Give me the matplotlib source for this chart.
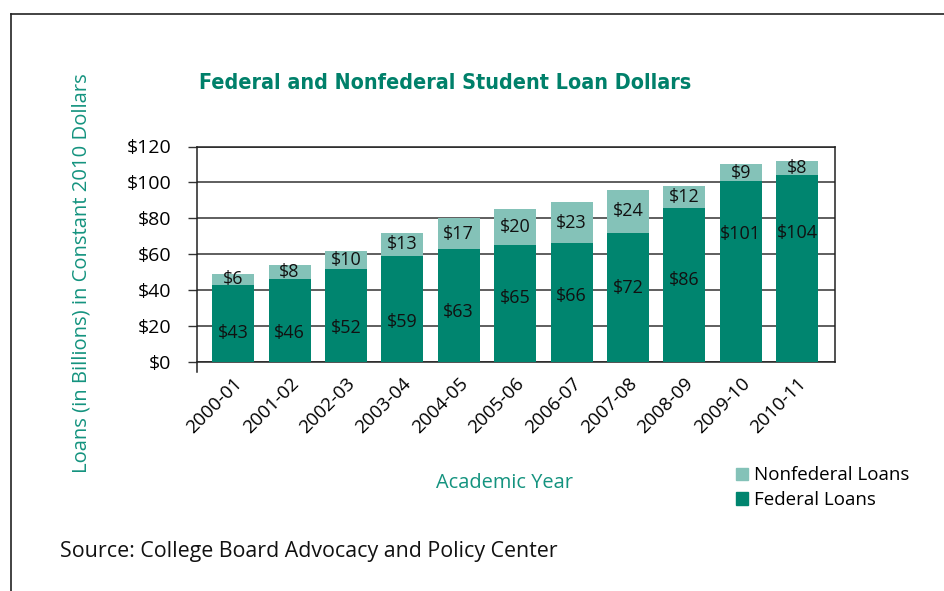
import numpy as np
import matplotlib.pyplot as plt
from matplotlib.lines import Line2D
from matplotlib.patches import Patch

# Loan dollars (billions, constant 2010 dollars)
years = ["2000-01", "2001-02", "2002-03", "2003-04", "2004-05", "2005-06",
         "2006-07", "2007-08", "2008-09", "2009-10", "2010-11"]
federal = [43, 46, 52, 59, 63, 65, 66, 72, 86, 101, 104]
nonfederal = [6, 8, 10, 13, 17, 20, 23, 24, 12, 9, 8]

# where the federal labels sit inside their bars
fed_label_y = [16, 16, 19, 22, 28, 35.5, 37, 41, 45.5, 71, 72]

FED = "#00856f"
NONFED = "#84c2b8"
GREEN_TXT = "#00806a"
LABEL_TXT = "#14937f"

plt.rcParams['font.family'] = ['Open Sans', 'DejaVu Sans']

fig = plt.figure(figsize=(9.44, 5.91), dpi=100)
ax = fig.add_axes([197 / 944, 1 - 362 / 591, 638 / 944, 215.5 / 591])

x = np.arange(len(years))
w = 0.745
ax.bar(x, federal, w, color=FED, zorder=3)
ax.bar(x, nonfederal, w, bottom=federal, color=NONFED, zorder=3)

for i in range(len(years)):
    ax.text(x[i], fed_label_y[i], f"${federal[i]}", ha='center', va='center',
            fontsize=13, color='#111111', zorder=4)
    ax.text(x[i], federal[i] + nonfederal[i] / 2, f"${nonfederal[i]}",
            ha='center', va='center', fontsize=13, color='#111111', zorder=4)

ax.set_xlim(-0.64, len(years) - 1 + 0.67)
ax.set_ylim(0, 120)
ax.set_yticks(range(0, 121, 20))
ax.set_yticklabels([f"${v}" for v in range(0, 121, 20)], fontsize=14)
ax.set_xticks(x)
ax.set_xticklabels(years, rotation=45, ha='right', rotation_mode='anchor',
                   fontsize=13.5)
ax.tick_params(axis='x', length=0, pad=9)
ax.tick_params(axis='y', length=6.5, width=1.0, color='#333333', pad=12)
ax.grid(axis='y', color='#333333', linewidth=1.1, zorder=1)
for s in ax.spines.values():
    s.set_color('#222222')
    s.set_linewidth(1.1)
ax.spines['left'].set_bounds(-5.5, 120)

# titles and captions
fig.text(199 / 944, 1 - 83 / 591, "Federal and Nonfederal Student Loan Dollars",
         ha='left', va='center', fontsize=15.4, fontweight='bold',
         fontstretch='condensed', color=GREEN_TXT, family='DejaVu Sans')
fig.text(82 / 944, 1 - 273 / 591, "Loans (in Billions) in Constant 2010 Dollars",
         rotation=90, ha='center', va='center', fontsize=14.6, color=LABEL_TXT)
fig.text(504 / 944, 1 - 483 / 591, "Academic Year", ha='center', va='center',
         fontsize=14.4, color=LABEL_TXT)
fig.text(60 / 944, 1 - 551 / 591, "Source: College Board Advocacy and Policy Center",
         ha='left', va='center', fontsize=15.4, color='#111111')

handles = [Patch(color=NONFED, label="Nonfederal Loans"),
           Patch(color=FED, label="Federal Loans")]
fig.legend(handles=handles, loc='upper left', bbox_to_anchor=(728 / 944, 1 - 459 / 591),
           frameon=False, fontsize=13.5, handlelength=0.65, handleheight=0.65,
           handletextpad=0.35, labelspacing=0.35, borderaxespad=0)

# outer frame (top and left edges)
fig.add_artist(Line2D([11 / 944, 11 / 944], [0, 1 - 14 / 591], color='#222222', lw=1.2))
fig.add_artist(Line2D([11 / 944, 1], [1 - 14 / 591, 1 - 14 / 591], color='#222222', lw=1.2))

fig.savefig("out.png", dpi=100)
